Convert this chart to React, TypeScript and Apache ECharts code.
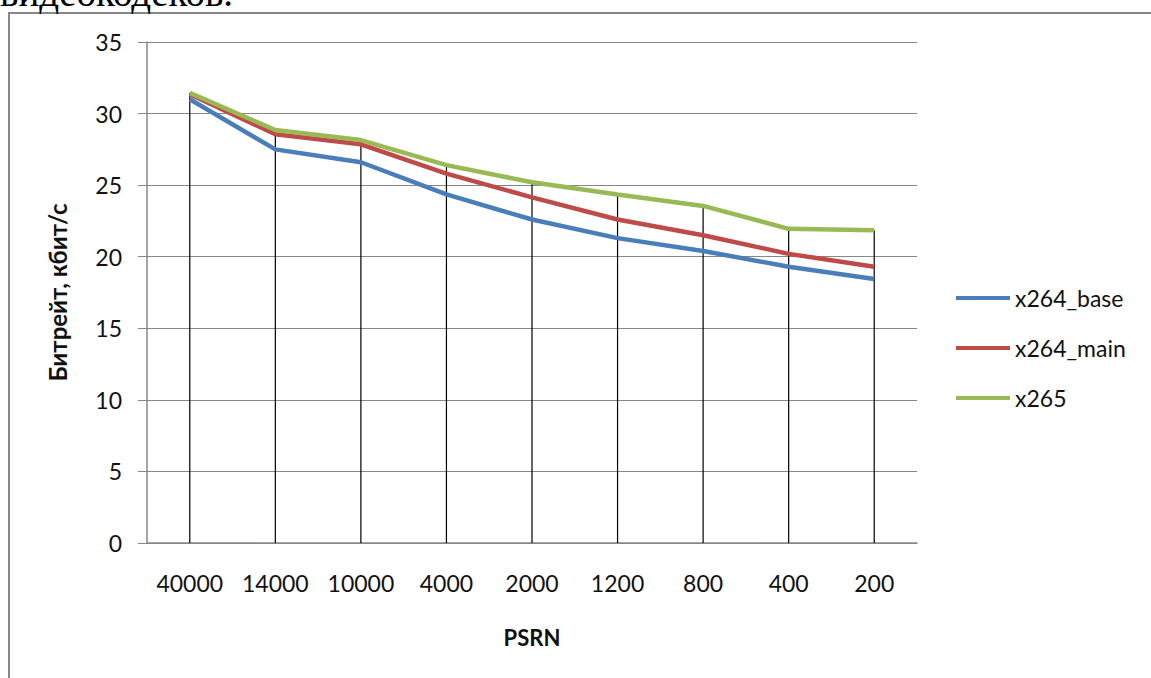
import React, { useEffect, useRef } from "react";
import * as echarts from "echarts";

const categories = ["40000", "14000", "10000", "4000", "2000", "1200", "800", "400", "200"];
const x264Base = [31.0, 27.5, 26.6, 24.35, 22.6, 21.3, 20.4, 19.3, 18.45];
const x264Main = [31.35, 28.55, 27.85, 25.8, 24.15, 22.6, 21.5, 20.2, 19.3];
const x265 = [31.45, 28.85, 28.15, 26.4, 25.2, 24.35, 23.55, 21.95, 21.85];
const seriesNames = ["x264_base", "x264_main", "x265"];
const yTitle = "Битрейт, кбит/с";
const xTitle = "PSRN";
const headText = "видеокодеков.";

export default function App() {
  const ref = useRef<HTMLDivElement>(null);
  useEffect(() => {
    if (!ref.current) return;
    const chart = echarts.init(ref.current, undefined, { renderer: "svg" });
    const dropTops = categories.map((_, i) => Math.max(x264Base[i], x264Main[i], x265[i]));
    const font = "Lato, 'Open Sans', sans-serif";
    chart.setOption({
      animation: false,
      backgroundColor: "#ffffff",
      textStyle: { fontFamily: font },
      graphic: [
        {
          type: "rect",
          shape: { x: 9, y: 13, width: 1200, height: 720 },
          style: { fill: "none", stroke: "#878787", lineWidth: 2 },
          silent: true,
        },
        {
          type: "text",
          x: 0,
          y: -27,
          style: {
            text: headText,
            font: "39px 'Liberation Serif', 'DejaVu Serif', serif",
            fill: "#000",
            verticalAlign: "top",
          },
          silent: true,
        },
      ],
      grid: { left: 147, right: 234, top: 42, bottom: 135, containLabel: false, outerBoundsMode: "none" },
      legend: {
        data: seriesNames,
        orient: "vertical",
        left: 956,
        top: 285,
        icon: "rect",
        itemWidth: 54,
        itemHeight: 4,
        itemGap: 24,
        padding: 0,
        textStyle: { fontSize: 23, color: "#111", fontFamily: font, lineHeight: 26, padding: [0, 0, 0, 0] },
      },
      xAxis: {
        type: "category",
        data: categories,
        boundaryGap: true,
        axisTick: { show: false },
        axisLine: { lineStyle: { color: "#878787", width: 1.5 } },
        axisLabel: { fontSize: 23, color: "#111", margin: 28, interval: 0, fontFamily: font },
        name: xTitle,
        nameLocation: "middle",
        nameGap: 83,
        nameTextStyle: { fontSize: 22, fontWeight: "bold", color: "#111", fontFamily: font },
      },
      yAxis: {
        type: "value",
        min: 0,
        max: 35,
        interval: 5,
        axisLine: { show: true, lineStyle: { color: "#878787", width: 1.5 } },
        axisTick: { show: true, length: 9, lineStyle: { color: "#878787" } },
        splitLine: { lineStyle: { color: "#878787", width: 1 } },
        axisLabel: { fontSize: 23, color: "#111", margin: 25, fontFamily: font },
        name: yTitle,
        nameLocation: "middle",
        nameGap: 78,
        nameRotate: 90,
        nameTextStyle: { fontSize: 24, fontWeight: "bold", color: "#111", fontFamily: font },
      },
      series: [
        {
          type: "bar",
          name: "drop",
          data: dropTops,
          barWidth: 1.2,
          itemStyle: { color: "#000" },
          silent: true,
          z: 1,
        },
        {
          type: "line",
          name: seriesNames[0],
          data: x264Base,
          symbol: "none",
          lineStyle: { width: 4.5, color: "#4A7EBB" },
          itemStyle: { color: "#4A7EBB" },
          z: 3,
        },
        {
          type: "line",
          name: seriesNames[1],
          data: x264Main,
          symbol: "none",
          lineStyle: { width: 4.5, color: "#BE4B48" },
          itemStyle: { color: "#BE4B48" },
          z: 4,
        },
        {
          type: "line",
          name: seriesNames[2],
          data: x265,
          symbol: "none",
          lineStyle: { width: 4.5, color: "#98B954" },
          itemStyle: { color: "#98B954" },
          z: 5,
        },
      ],
    });
    return () => chart.dispose();
  }, []);
  return (
    <div
      ref={ref}
      style={{ position: "fixed", left: 0, top: 0, width: 1151, height: 678, background: "#fff" }}
    />
  );
}
